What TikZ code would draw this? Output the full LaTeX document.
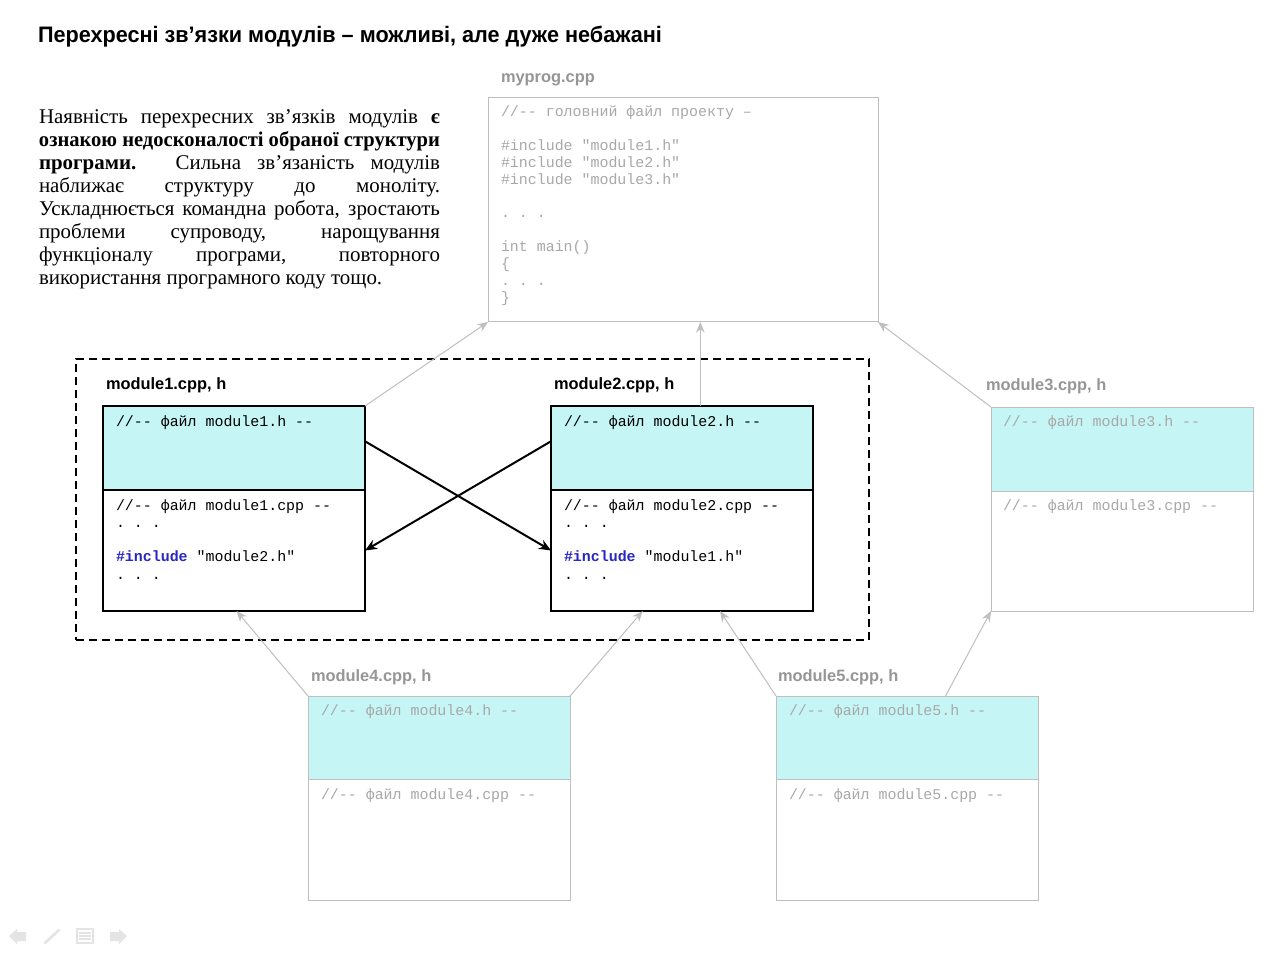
\documentclass[tikz,border=0pt]{standalone}
\usepackage{graphicx}
\usepackage{fontspec}
\setmainfont{Liberation Serif}
\newfontfamily\sansf{Liberation Sans}
\setmonofont{Liberation Mono}
\usetikzlibrary{arrows.meta,calc}
\definecolor{cyanfill}{RGB}{198,245,245}
\definecolor{grayline}{RGB}{191,191,191}
\definecolor{graylabel}{RGB}{150,150,150}
\definecolor{graycode}{RGB}{168,168,168}
\definecolor{incblue}{RGB}{40,40,190}
\definecolor{navgray}{RGB}{228,228,228}
\newcommand\pjline[1]{\makebox[300.75pt][s]{#1}}
\tikzset{
 every node/.style={inner sep=0pt, outer sep=0pt},
 boxblack/.style={draw=black, line width=1.5pt, anchor=north west, minimum width=196.5pt},
 boxgray/.style={draw=grayline, line width=0.75pt, anchor=north west, minimum width=196.5pt},
 hpart/.style={fill=cyanfill, minimum height=63pt},
 cpart/.style={fill=white, minimum height=90.75pt},
 codeblack/.style={anchor=base west, font=\ttfamily\fontsize{11.2pt}{12.75pt}\selectfont, text=black},
 codegray/.style={codeblack, text=graycode},
 lblblack/.style={anchor=base west, font=\sansf\bfseries\fontsize{12.3pt}{14pt}\selectfont},
 lblgray/.style={lblblack, text=graylabel},
 garrow/.style={draw=grayline, line width=0.75pt, -{Stealth[length=8pt,width=6.5pt]}},
 barrow/.style={draw=black, line width=1.5pt, -{Stealth[length=9pt,width=7.5pt]}},
 ptext/.style={anchor=base west, font=\fontsize{15.7pt}{17.25pt}\selectfont},
}
\begin{document}
\begin{tikzpicture}[x=0.75pt,y=-0.75pt]
\useasboundingbox[fill=white] (0,0) rectangle (1280,955);

% title
\node[anchor=base west, font=\sansf\bfseries\fontsize{16.8pt}{20pt}\selectfont] (title) at (38,43)
  {\resizebox{468pt}{\height}{Перехресні зв’язки модулів – можливі, але дуже небажані}};

% paragraph
\node[ptext] (p1) at (39,124) {\pjline{Наявність перехресних зв’язків модулів \textbf{є}}};
\node[ptext] (p2) at (39,147) {\resizebox{300.75pt}{\height}{\textbf{ознакою недосконалості обраної структури}}};
\node[ptext] (p3) at (39,170) {\pjline{\textbf{програми.} Сильна зв’язаність модулів}};
\node[ptext] (p4) at (39,193) {\pjline{наближає структуру до моноліту.}};
\node[ptext] (p5) at (39,216) {\pjline{Ускладнюється командна робота, зростають}};
\node[ptext] (p6) at (39,239) {\pjline{проблеми супроводу, нарощування}};
\node[ptext] (p7) at (39,262) {\pjline{функціоналу програми, повторного}};
\node[ptext] (p8) at (39,285) {використання програмного коду тощо.};

% myprog
\node[lblgray] (myproglbl) at (501,83) {myprog.cpp};
\node[draw=grayline, line width=0.75pt, anchor=north west, minimum width=292.5pt, minimum height=168pt] (myprog) at (488,98) {};
\node[codegray] (mp1) at (501,117) {//-- головний файл проекту –};
\node[codegray] (mp2) at (501,151) {\#include "module1.h"};
\node[codegray] (mp3) at (501,168) {\#include "module2.h"};
\node[codegray] (mp4) at (501,185) {\#include "module3.h"};
\node[codegray] (mp5) at (501,218) {.\ .\ .};
\node[codegray] (mp6) at (501,252) {int main()};
\node[codegray] (mp7) at (501,269) {\{};
\node[codegray] (mp8) at (501,286) {.\ .\ .};
\node[codegray] (mp9) at (501,302) {\}};

% dashed group
\node[draw=black, line width=1.1pt, dash pattern=on 6pt off 3.75pt, anchor=north west,
      minimum width=594.75pt, minimum height=210.75pt] (grp) at (76,359) {};

% module1
\node[lblblack] (m1lbl) at (106,389) {module1.cpp, h};
\node[boxblack,hpart] (m1h) at (103,406) {};
\node[boxblack,cpart] (m1c) at (103,490) {};
\node[codeblack] (m1t1) at (116,426) {//-- файл module1.h --};
\node[codeblack] (m1t2) at (116,510) {//-- файл module1.cpp --};
\node[codeblack] (m1t3) at (116,527) {.\ .\ .};
\node[codeblack] (m1t4) at (116,561) {{\color{incblue}\bfseries\#include} "module2.h"};
\node[codeblack] (m1t5) at (116,579) {.\ .\ .};

% module2
\node[lblblack] (m2lbl) at (554,389) {module2.cpp, h};
\node[boxblack,hpart] (m2h) at (551,406) {};
\node[boxblack,cpart] (m2c) at (551,490) {};
\node[codeblack] (m2t1) at (564,426) {//-- файл module2.h --};
\node[codeblack] (m2t2) at (564,510) {//-- файл module2.cpp --};
\node[codeblack] (m2t3) at (564,527) {.\ .\ .};
\node[codeblack] (m2t4) at (564,561) {{\color{incblue}\bfseries\#include} "module1.h"};
\node[codeblack] (m2t5) at (564,579) {.\ .\ .};

% module3
\node[lblgray] (m3lbl) at (986,390) {module3.cpp, h};
\node[boxgray,hpart] (m3h) at (991,407) {};
\node[boxgray,cpart,minimum height=90pt] (m3c) at (991,491) {};
\node[codegray] (m3t1) at (1003,426) {//-- файл module3.h --};
\node[codegray] (m3t2) at (1003,510) {//-- файл module3.cpp --};

% module4
\node[lblgray] (m4lbl) at (311,681) {module4.cpp, h};
\node[boxgray,hpart,minimum height=62.25pt] (m4h) at (308,696) {};
\node[boxgray,cpart] (m4c) at (308,779) {};
\node[codegray] (m4t1) at (321,715) {//-- файл module4.h --};
\node[codegray] (m4t2) at (321,799) {//-- файл module4.cpp --};

% module5
\node[lblgray] (m5lbl) at (778,681) {module5.cpp, h};
\node[boxgray,hpart,minimum height=62.25pt] (m5h) at (776,696) {};
\node[boxgray,cpart] (m5c) at (776,779) {};
\node[codegray] (m5t1) at (789,715) {//-- файл module5.h --};
\node[codegray] (m5t2) at (789,799) {//-- файл module5.cpp --};

% black cross arrows
\draw[barrow] ($(m1h.north east)!0.42!(m1h.south east)$) -- (m2c.west);
\draw[barrow] ($(m2h.north west)!0.42!(m2h.south west)$) -- (m1c.west -| m1c.east);

% gray arrows
\draw[garrow] (m1h.north east) -- (myprog.south west);
\coordinate (m2top) at ($(m2h.north west)!0.57!(m2h.north east)$);
\draw[garrow] (m2top) -- (m2top |- myprog.south);
\draw[garrow] (m3h.north west) -- (myprog.south east);
\draw[garrow] (m4h.north west) -- ($(m1c.south west)!0.51!(m1c.south east)$);
\draw[garrow] (m4h.north east) -- ($(m2c.south west)!0.35!(m2c.south east)$);
\draw[garrow] (m5h.north west) -- ($(m2c.south west)!0.645!(m2c.south east)$);
\draw[garrow] ($(m5h.north west)!0.647!(m5h.north east)$) -- (m3c.south west);

% navigation icons
\fill[navgray] (9,936) -- (17,929) -- (17,932) -- (26,932) -- (26,941) -- (17,941) -- (17,944) -- cycle;
\draw[navgray, line width=2pt, line cap=round] (45,943) -- (59,930);
\draw[navgray, fill=white, line width=1pt] (77,929) rectangle (93,943);
\draw[navgray, line width=1pt] (79,933) -- (91,933) (79,936) -- (91,936) (79,939) -- (91,939);
\fill[navgray] (127,936) -- (119,929) -- (119,932) -- (110,932) -- (110,941) -- (119,941) -- (119,944) -- cycle;
\end{tikzpicture}
\end{document}
